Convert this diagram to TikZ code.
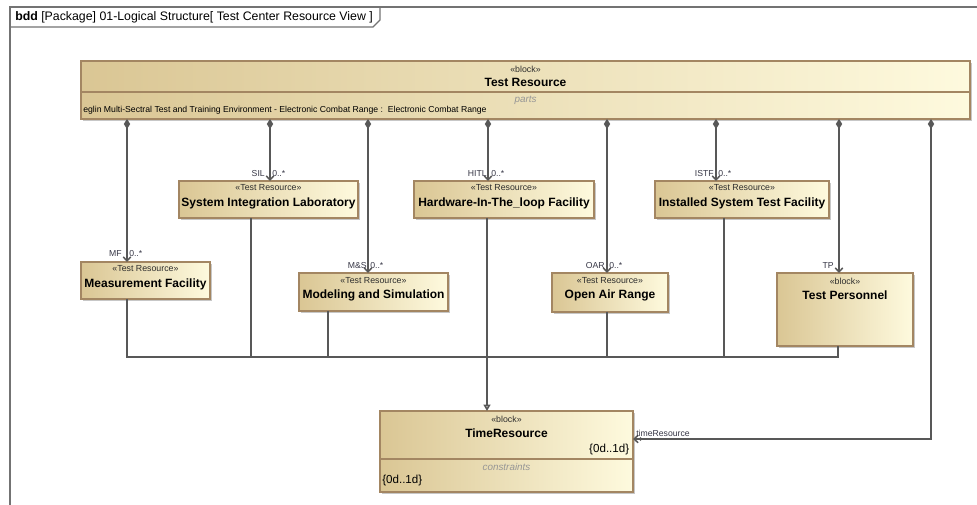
\documentclass[tikz,border=0pt]{standalone}
\usepackage{fontspec}
\setmainfont{Liberation Sans}
\usetikzlibrary{arrows.meta,shadows}
\definecolor{blkdark}{RGB}{218,198,148}
\definecolor{blklight}{RGB}{254,250,222}
\definecolor{blkedge}{RGB}{163,134,98}
\definecolor{wire}{RGB}{88,88,88}
\definecolor{framegray}{RGB}{115,115,115}
\definecolor{stereotext}{RGB}{45,45,45}
\definecolor{comptext}{RGB}{150,150,150}
\definecolor{multtext}{RGB}{55,55,70}

\begin{document}
\begin{tikzpicture}[x=0.75pt,y=-0.75pt,
  block/.style 2 args={draw=blkedge, line width=1pt,
    left color=blkdark, right color=blklight,
    minimum width={#1*0.75pt}, minimum height={#2*0.75pt},
    inner sep=0pt, outer sep=0pt,
    drop shadow={shadow xshift=1.2pt, shadow yshift=-1.2pt, fill=black, opacity=0.22}},
  divider/.style={draw=blkedge, line width=1pt},
  stereo/.style={font=\fontsize{6.6}{7}\selectfont, text=stereotext, inner sep=0pt},
  bname/.style={font=\fontsize{9}{10}\selectfont\bfseries, inner sep=0pt},
  comptitle/.style={font=\fontsize{7.4}{8}\selectfont\itshape, text=comptext, inner sep=0pt},
  partline/.style={font=\fontsize{6.5}{7}\selectfont, text=black, inner sep=0pt},
  rangetext/.style={font=\fontsize{8.7}{10}\selectfont, inner sep=0pt},
  mult/.style={font=\fontsize{6.5}{7}\selectfont, text=multtext, inner sep=0pt},
  wireline/.style={draw=wire, line width=1.1pt},
  comp/.style={wireline, {Diamond[length=7.5pt,width=4.8pt]}-{Straight Barb[length=3pt,width=5.6pt]}},
  assoc/.style={wireline, {Diamond[length=7.5pt,width=4.8pt]}-{Circle[length=2.4pt] Straight Barb[length=3pt,width=5.6pt]}},
  gen/.style={wireline, -{Triangle[open, fill=white, length=4.8pt, width=5.2pt]}},
  frame/.style={draw=framegray, line width=1pt}
]
\useasboundingbox (0,0) rectangle (977,505);
\fill[white] (0,0) rectangle (977,505);

% diagram frame with its name tab
\draw[frame] (10,505) -- (10,7) -- (977,7);
\draw[frame] (10,27) -- (373,27) -- (380,20) -- (380,7);
\node[anchor=west, font=\fontsize{9.25}{10}\selectfont, inner sep=0pt] (title) at (15,17)
  {\textbf{bdd} [Package] 01-Logical Structure[ Test Center Resource View ]};

% ---- blocks ----
\node[block={889}{58}] (tr) at (525.5,90) {};
\draw[divider] (tr.west |- 0,92) -- (tr.east |- 0,92);
\node[stereo] (trS) at (525.5,69) {«block»};
\node[bname] (trN) at (525.5,82) {Test Resource};
\node[comptitle] (trC) at (525.5,100) {parts};
\node[partline, anchor=west] (trP) at (83,110)
  {eglin Multi-Sectral Test and Training Environment - Electronic Combat Range :\ \ Electronic Combat Range};

\node[block={179}{37}] (sil) at (268.5,199.5) {};
\node[stereo] (silS) at (268.5,188) {«Test Resource»};
\node[bname] (silN) at (268.5,203) {System Integration Laboratory};

\node[block={180}{37}] (hitl) at (504,199.5) {};
\node[stereo] (hitlS) at (504,188) {«Test Resource»};
\node[bname] (hitlN) at (504,203) {Hardware-In-The\_loop Facility};

\node[block={174}{37}] (istf) at (742,199.5) {};
\node[stereo] (istfS) at (742,188) {«Test Resource»};
\node[bname] (istfN) at (742,203) {Installed System Test Facility};

\node[block={129}{37}] (mf) at (145.5,280.5) {};
\node[stereo] (mfS) at (145.5,269) {«Test Resource»};
\node[bname] (mfN) at (145.5,284) {Measurement Facility};

\node[block={149}{38}] (ms) at (373.5,292) {};
\node[stereo] (msS) at (373.5,280.5) {«Test Resource»};
\node[bname] (msN) at (373.5,295.5) {Modeling and Simulation};

\node[block={116}{39}] (oar) at (610,292.5) {};
\node[stereo] (oarS) at (610,280.5) {«Test Resource»};
\node[bname] (oarN) at (610,295.5) {Open Air Range};

\node[block={136}{73}] (tp) at (845,309.5) {};
\node[stereo] (tpS) at (845,281) {«block»};
\node[bname] (tpN) at (845,295) {Test Personnel};

\node[block={253}{81}] (time) at (506.5,451.5) {};
\draw[divider] (time.west |- 0,459) -- (time.east |- 0,459);
\node[stereo] (timeS) at (506.5,419) {«block»};
\node[bname] (timeN) at (506.5,433) {TimeResource};
\node[rangetext, anchor=east] (timeR) at (629.5,449.5) {\{0d..1d\}};
\node[comptitle] (timeC) at (506.5,467) {constraints};
\node[rangetext, anchor=west] (timeK) at (382,480) {\{0d..1d\}};

% ---- part properties (composition) ----
\draw[comp] (tr.south -| 127,0) -- (mf.north -| 127,0);
\draw[comp] (tr.south -| 270,0) -- (sil.north -| 270,0);
\draw[comp] (tr.south -| 368,0) -- (ms.north -| 368,0);
\draw[comp] (tr.south -| 488,0) -- (hitl.north -| 488,0);
\draw[comp] (tr.south -| 607,0) -- (oar.north -| 607,0);
\draw[comp] (tr.south -| 716,0) -- (istf.north -| 716,0);
\draw[comp] (tr.south -| 839,0) -- (tp.north -| 839,0);
\coordinate (trBend) at (931,439);
\draw[assoc] (tr.south -| trBend) -- (trBend) -- (time.east |- trBend);

% role names and multiplicities
\node[mult, anchor=east] (mfRole) at (122,254) {MF};
\node[mult, anchor=west] (mfMul) at (129,254) {0..*};
\node[mult, anchor=east] (silRole) at (265,174) {SIL};
\node[mult, anchor=west] (silMul) at (272,174) {0..*};
\node[mult, anchor=east] (msRole) at (367,266) {M\&S};
\node[mult, anchor=west] (msMul) at (370,266) {0..*};
\node[mult, anchor=east] (hitlRole) at (487,174) {HITL};
\node[mult, anchor=west] (hitlMul) at (491,174) {0..*};
\node[mult, anchor=east] (oarRole) at (605,266) {OAR};
\node[mult, anchor=west] (oarMul) at (609,266) {0..*};
\node[mult, anchor=east] (istfRole) at (714,174) {ISTF};
\node[mult, anchor=west] (istfMul) at (718,174) {0..*};
\node[mult, anchor=east] (tpRole) at (834,266) {TP};
\node[mult, anchor=west] (timeRole) at (636,433) {timeResource};

% ---- generalization tree ----
\draw[wireline] (mf.south -| 127,0) -- (127,357) -- (838,357) -- (tp.south -| 838,0);
\draw[wireline] (sil.south -| 251,0) -- (251,357);
\draw[wireline] (ms.south -| 328,0) -- (328,357);
\draw[wireline] (oar.south -| 607,0) -- (607,357);
\draw[wireline] (istf.south -| 724,0) -- (724,357);
\draw[wireline] (hitl.south -| 487,0) -- (487,357);
\draw[gen, line width=1.6pt] (487,357) -- (time.north -| 487,0);
\end{tikzpicture}
\end{document}
